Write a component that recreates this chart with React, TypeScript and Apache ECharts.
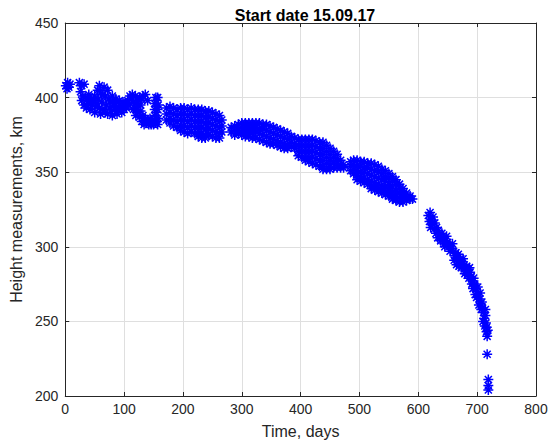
import React, { useEffect, useRef } from "react";
import * as echarts from "echarts";

const titleText = "Start date 15.09.17";
const xName = "Time, days";
const yName = "Height measurements, km";

// [day, height km]
const segA: number[][] = [
  [1, 408], [4, 410], [6, 407], [8, 409], [3, 406],
  [24, 410], [28, 408], [32, 409], [26, 404], [30, 401],
  [28, 398], [32, 395], [34, 400], [36, 393], [40, 396], [42, 392], [44, 399], [46, 395],
  [38, 399], [40, 402], [48, 398], [50, 401], [50, 390], [54, 396], [58, 393], [60, 389],
  [52, 394], [55, 405], [56, 399], [58, 408], [60, 403], [62, 397], [64, 392], [66, 407],
  [64, 402], [68, 390], [72, 389], [76, 397], [80, 388], [84, 396], [88, 389],
  [68, 401], [70, 395], [72, 405], [74, 399], [76, 393], [78, 391],
  [80, 401], [82, 396], [84, 392], [86, 399], [88, 394], [90, 391], [92, 398], [95, 394],
  [92, 393], [96, 390], [100, 396], [104, 393], [106, 398], [108, 395],
  [98, 397], [100, 392], [103, 396],
  [110, 401], [114, 402], [120, 396], [128, 395], [132, 401], [126, 400],
  [112, 399], [116, 397], [119, 401], [124, 398], [130, 399], [136, 402], [140, 398],
  [116, 392], [120, 388],
  [118, 393], [122, 390], [124, 394], [126, 387], [128, 391], [130, 384], [132, 388],
  [134, 382], [138, 383], [142, 382], [146, 382], [150, 382], [153, 383],
  [136, 386], [140, 385], [144, 386], [148, 384],
  [155, 386], [155, 390], [155, 394], [155, 398], [154, 400], [152, 385], [157, 382], [157, 392],
  [152, 388], [152, 392], [152, 396], [158, 386], [158, 395], [157, 400],
];

const segB: number[][] = [
  [172, 393], [172, 389], [172, 385],
  [178, 394], [178, 390], [178, 386], [178, 383],
  [184, 393], [184, 389], [184, 385], [184, 381],
  [190, 392], [190, 388], [190, 384], [190, 380],
  [196, 393], [196, 389], [196, 385], [196, 381], [196, 378],
  [202, 393], [202, 389], [202, 385], [202, 381], [202, 377],
  [208, 392], [208, 388], [208, 384], [208, 380], [208, 376],
  [214, 393], [214, 389], [214, 385], [214, 381], [214, 377],
  [220, 392], [220, 388], [220, 384], [220, 380], [220, 376],
  [226, 392], [226, 388], [226, 384], [226, 380], [226, 376], [226, 374],
  [232, 392], [232, 388], [232, 384], [232, 380], [232, 376], [232, 373],
  [238, 391], [238, 387], [238, 383], [238, 379], [238, 375], [238, 373],
  [244, 391], [244, 387], [244, 383], [244, 379], [244, 375],
  [250, 390], [250, 386], [250, 382], [250, 378], [250, 374],
  [256, 389], [256, 385], [256, 381], [256, 377], [256, 373],
  [262, 388], [262, 384], [262, 380], [262, 376], [262, 373],
  [266, 385], [266, 381], [266, 377],
];

const segC: number[][] = [
  [282, 380], [282, 377],
  [288, 381], [288, 378], [288, 375],
  [294, 382], [294, 379], [294, 376],
  [300, 383], [300, 380], [300, 377], [300, 375],
  [306, 383], [306, 380], [306, 377], [306, 374],
  [312, 383], [312, 380], [312, 377], [312, 374],
  [318, 383], [318, 380], [318, 377], [318, 373],
  [324, 383], [324, 380], [324, 377], [324, 373],
  [330, 383], [330, 379], [330, 376], [330, 372],
  [336, 382], [336, 379], [336, 375], [336, 371],
  [342, 382], [342, 378], [342, 374], [342, 370],
  [348, 381], [348, 377], [348, 373], [348, 369],
  [354, 380], [354, 376], [354, 372], [354, 369],
  [360, 379], [360, 375], [360, 371], [360, 368],
  [366, 378], [366, 374], [366, 370], [366, 367],
  [372, 377], [372, 373], [372, 369], [372, 366],
  [378, 376], [378, 372], [378, 368], [378, 366],
  [384, 374], [384, 370], [384, 367],
  [390, 373], [390, 369], [390, 366],
  [396, 372], [396, 368], [396, 364], [396, 361],
  [402, 372], [402, 368], [402, 364], [402, 360],
  [408, 372], [408, 368], [408, 364], [408, 360], [408, 358],
  [414, 372], [414, 368], [414, 364], [414, 360], [414, 357],
];

const segD: number[][] = [
  [420, 372], [420, 368], [420, 364], [420, 360], [420, 356],
  [426, 371], [426, 367], [426, 363], [426, 359], [426, 355],
  [432, 370], [432, 366], [432, 362], [432, 358], [432, 354],
  [438, 370], [438, 366], [438, 362], [438, 358], [438, 354], [438, 352],
  [444, 368], [444, 364], [444, 360], [444, 356], [444, 352],
  [450, 366], [450, 362], [450, 358], [450, 355], [450, 352],
  [456, 364], [456, 360], [456, 357], [456, 353],
  [462, 362], [462, 359], [462, 356], [462, 353],
  [468, 358], [468, 355], [468, 353],
  [473, 355], [473, 353],
];

const segE: number[][] = [
  [485, 357], [485, 354], [485, 351],
  [490, 358], [490, 355], [490, 352], [490, 349],
  [496, 358], [496, 354], [496, 351], [496, 348], [496, 345],
  [502, 357], [502, 354], [502, 350], [502, 347], [502, 344],
  [508, 357], [508, 353], [508, 350], [508, 346], [508, 343],
  [514, 356], [514, 353], [514, 349], [514, 345], [514, 342],
  [520, 356], [520, 352], [520, 348], [520, 344], [520, 341], [520, 339],
  [526, 355], [526, 351], [526, 347], [526, 343], [526, 340], [526, 338],
  [532, 354], [532, 350], [532, 346], [532, 342], [532, 339], [532, 337],
  [538, 352], [538, 349], [538, 345], [538, 341], [538, 338], [538, 336],
  [544, 351], [544, 347], [544, 344], [544, 340], [544, 337], [544, 335],
  [550, 349], [550, 346], [550, 342], [550, 339], [550, 336], [550, 334],
  [556, 347], [556, 344], [556, 340], [556, 337], [556, 334], [556, 332],
  [562, 345], [562, 342], [562, 338], [562, 335], [562, 332], [562, 331],
  [568, 342], [568, 339], [568, 336], [568, 333], [568, 330],
  [574, 339], [574, 336], [574, 333], [574, 330],
  [580, 336], [580, 333], [580, 331],
  [586, 334], [586, 332],
  [590, 332],
];

const segF: number[][] = [
  [617, 321], [620, 323], [622, 318], [625, 320], [624, 315],
  [619, 317], [621, 313], [627, 312], [633, 306], [638, 304],
  [628, 316], [631, 313], [634, 311], [630, 309], [636, 308], [640, 309], [642, 306],
  [646, 304], [644, 302], [650, 303], [652, 300], [656, 299], [654, 297],
  [645, 300], [648, 307], [658, 302],
  [660, 297], [662, 294], [666, 292], [664, 296], [668, 295], [670, 290], [672, 292],
  [661, 291], [665, 288], [669, 287], [673, 286], [676, 292], [679, 282], [683, 281],
  [675, 289], [678, 288], [682, 287], [684, 285], [680, 284],
  [686, 279], [687, 286], [691, 275], [693, 272], [697, 268], [699, 266], [701, 273],
  [688, 283], [690, 280], [692, 277], [694, 279], [696, 275], [698, 272], [700, 270],
  [703, 261], [705, 269], [707, 258], [710, 250], [713, 247], [714, 258],
  [702, 267], [704, 265], [706, 262], [708, 263], [709, 259], [711, 256], [712, 252],
  [714, 254], [715, 249], [716, 246], [716, 243], [717, 240], [718, 244],
  [717, 228], [719, 211], [719, 207], [719, 204],
];

const xMin = 0, xMax = 800, xStep = 100;
const yMin = 200, yMax = 450, yStep = 50;

const STAR = "path://M0,5L10,5M5,0L5,10M1.46,1.46L8.54,8.54M1.46,8.54L8.54,1.46";

export default function App() {
  const ref = useRef<HTMLDivElement>(null);
  useEffect(() => {
    if (!ref.current) return;
    const chart = echarts.init(ref.current, undefined, { renderer: "svg" });
    const font = "'Liberation Sans', Arial, Helvetica, sans-serif";
    const axisColor = "#262626";
    const gridColor = "#dfdfdf";
    const data = [...segA, ...segB, ...segC, ...segD, ...segE, ...segF];
    const commonX = {
      type: "value" as const,
      min: xMin, max: xMax, interval: xStep,
      axisLine: { show: true, onZero: false, lineStyle: { color: axisColor, width: 1 } },
      axisTick: { show: true, inside: true, length: 4, lineStyle: { color: axisColor } },
    };
    const commonY = {
      type: "value" as const,
      min: yMin, max: yMax, interval: yStep,
      axisLine: { show: true, onZero: false, lineStyle: { color: axisColor, width: 1 } },
      axisTick: { show: true, inside: true, length: 4, lineStyle: { color: axisColor } },
    };
    chart.setOption({
      animation: false,
      backgroundColor: "#ffffff",
      title: {
        text: titleText,
        left: 300,
        textAlign: "center",
        top: 2,
        textStyle: { fontFamily: font, fontSize: 16, fontWeight: "bold", color: "#000000" },
      },
      grid: { left: 65, right: 22, top: 23, bottom: 48, containLabel: false },
      xAxis: [
        {
          ...commonX,
          position: "bottom",
          name: xName,
          nameLocation: "middle",
          nameGap: 27,
          nameTextStyle: { fontFamily: font, fontSize: 16, color: axisColor },
          axisLabel: { fontFamily: font, fontSize: 14, color: axisColor, margin: 6 },
          splitLine: { show: true, lineStyle: { color: gridColor, width: 1 } },
        },
        {
          ...commonX,
          position: "top",
          axisLabel: { show: false },
          splitLine: { show: false },
        },
      ],
      yAxis: [
        {
          ...commonY,
          position: "left",
          name: yName,
          nameLocation: "middle",
          nameGap: 30,
          nameTextStyle: { fontFamily: font, fontSize: 16, color: axisColor },
          axisLabel: { fontFamily: font, fontSize: 14, color: axisColor, margin: 7 },
          splitLine: { show: true, lineStyle: { color: gridColor, width: 1 } },
        },
        {
          ...commonY,
          position: "right",
          axisLabel: { show: false },
          splitLine: { show: false },
        },
      ],
      series: [
        {
          type: "scatter",
          xAxisIndex: 0,
          yAxisIndex: 0,
          data,
          symbol: STAR,
          symbolSize: 10,
          silent: true,
          itemStyle: { color: "#0000ff", borderColor: "#0000ff", borderWidth: 1.5, opacity: 1 },
          emphasis: { disabled: true },
        },
      ],
    });
    return () => chart.dispose();
  }, []);
  return (
    <div
      ref={ref}
      style={{ position: "fixed", left: 0, top: 0, width: 558, height: 444, background: "#fff" }}
    />
  );
}
